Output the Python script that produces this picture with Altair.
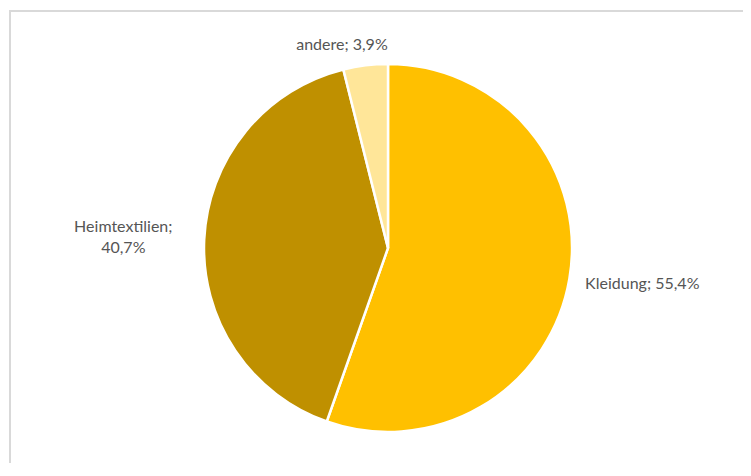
import altair as alt
import pandas as pd

categories = ["Kleidung", "Heimtextilien", "andere"]
shares = [55.4, 40.7, 3.9]
label_texts = ["Kleidung; 55,4%", "Heimtextilien;\n40,7%", "andere; 3,9%"]
colors = ["#FFC000", "#BF9000", "#FFE699"]

df = pd.DataFrame({
    "kategorie": categories,
    "anteil": shares,
    "label": label_texts,
    "idx": list(range(len(categories))),
})

W, H = 735, 455
CX, CY = 379, 240
R = 184

theta_scale = alt.Scale(domain=[0, 100])
color_scale = alt.Scale(domain=categories, range=colors)

base = alt.Chart(df)

arcs = base.mark_arc(outerRadius=R, stroke="white", strokeWidth=2.5).encode(
    theta=alt.Theta("anteil:Q", stack=True, scale=theta_scale),
    color=alt.Color("kategorie:N", scale=color_scale, legend=None),
    order=alt.Order("idx:Q"),
    x=alt.value(CX),
    y=alt.value(CY),
)

label_base = base.transform_window(
    cum="sum(anteil)", sort=[alt.SortField("idx")]
).transform_calculate(
    mid="datum.cum - datum.anteil / 2"
)

# (category, label radius, dx, dy)
label_layout = [
    ("Kleidung", 258, 0, -8),
    ("Heimtextilien", 265, 0, -9),
    ("andere", 205, -21, 0),
]

text_layers = []
for cat, rad, ddx, ddy in label_layout:
    t = label_base.transform_filter(alt.datum.kategorie == cat).mark_text(
        radius=rad, dx=ddx, dy=ddy, font="Lato", fontSize=16,
        color="#555555", align="center", baseline="middle",
        lineBreak="\n", lineHeight=21,
    ).encode(
        theta=alt.Theta("mid:Q", scale=theta_scale),
        text="label:N",
        x=alt.value(CX),
        y=alt.value(CY),
    )
    text_layers.append(t)

frame = alt.Chart(pd.DataFrame({"k": [0]}))
top_rule = frame.mark_rule(color="#d9d9d9", strokeWidth=2).encode(
    x=alt.value(0), x2=alt.value(W), y=alt.value(3)
)
left_rule = frame.mark_rule(color="#d9d9d9", strokeWidth=2).encode(
    x=alt.value(1), y=alt.value(2), y2=alt.value(H)
)

chart = alt.layer(top_rule, left_rule, arcs, *text_layers).properties(
    width=W, height=H, padding=0,
    autosize=alt.AutoSizeParams(type="fit", contains="padding"),
).configure_view(stroke=None)

chart.save("out.html", embed_options={"renderer": "svg", "actions": False})
